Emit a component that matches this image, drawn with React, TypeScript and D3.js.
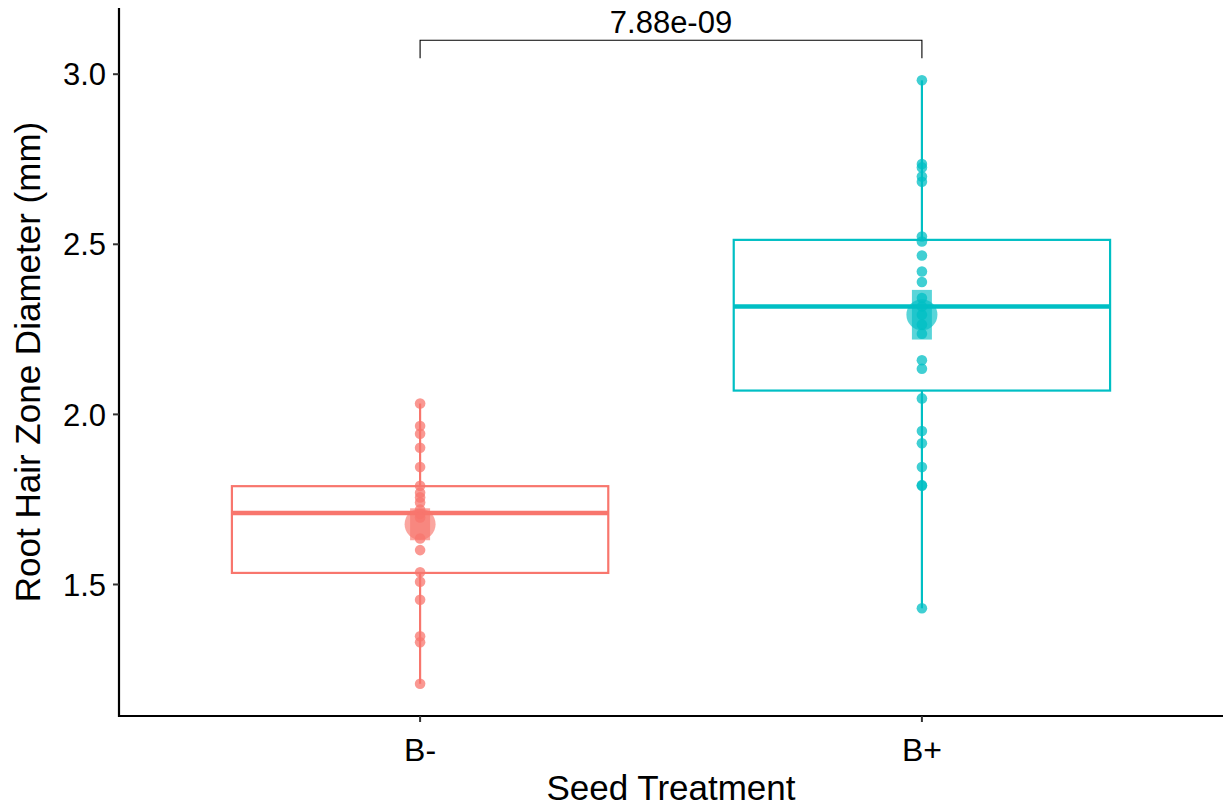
import React from "react";
import * as d3 from "d3";

// Treatment groups and their colours
const groups = ["B-", "B+"];
const groupColors = ["#F8766D", "#00BFC4"];

// Root hair zone diameter measurements (mm) for each seed treatment
const valuesBMinus = [
  2.032, 1.966, 1.943, 1.902, 1.845, 1.790, 1.770, 1.756, 1.741, 1.720,
  1.707, 1.697, 1.635, 1.601, 1.536, 1.508, 1.455, 1.348, 1.330, 1.208,
];
const valuesBPlus = [
  2.982, 2.736, 2.726, 2.699, 2.684, 2.523, 2.508, 2.467, 2.420, 2.389,
  2.342, 2.317, 2.293, 2.264, 2.237, 2.159, 2.134, 2.047, 1.951, 1.915,
  1.845, 1.792, 1.790, 1.430,
];

// Box summaries (lower hinge, median, upper hinge)
const boxQ1 = [1.534, 2.07];
const boxMedian = [1.71, 2.317];
const boxQ3 = [1.789, 2.513];

// Group mean and its standard error
const groupMeans = [1.677, 2.293];
const groupSE = [0.047, 0.073];

// Comparison bracket between the two groups
const pValueLabel = "7.88e-09";
const bracketY = 3.1;
const bracketTip = 0.053;

const yTicks = [1.5, 2.0, 2.5, 3.0];

const W = 1223;
const H = 807;
const panel = { left: 119, right: 1223, top: 8, bottom: 716 };
const FONT = "'Liberation Sans', Arial, Helvetica, sans-serif";

export default function App() {
  const series = [valuesBMinus, valuesBPlus];
  const allVals = series.flat();
  const lo = d3.min(allVals) as number;
  const hi = bracketY;
  const pad = (hi - lo) * 0.05;

  const y = d3
    .scaleLinear()
    .domain([lo - pad, hi + pad])
    .range([panel.bottom, panel.top]);

  const x = d3
    .scalePoint<string>()
    .domain(groups)
    .range([panel.left, panel.right])
    .padding(0.6);

  const step = x.step();
  const boxW = step * 0.75;
  const seW = 20;

  return (
    <svg
      width={W}
      height={H}
      style={{ position: "absolute", left: 0, top: 0, background: "#fff" }}
      fontFamily={FONT}
    >
      <rect x={0} y={0} width={W} height={H} fill="#fff" />

      {groups.map((g, i) => {
        const cx = x(g) as number;
        const col = groupColors[i];
        const vals = series[i];
        const vmin = d3.min(vals) as number;
        const vmax = d3.max(vals) as number;
        return (
          <g key={g}>
            {/* whiskers */}
            <line x1={cx} x2={cx} y1={y(boxQ3[i])} y2={y(vmax)} stroke={col} strokeWidth={2.2} />
            <line x1={cx} x2={cx} y1={y(boxQ1[i])} y2={y(vmin)} stroke={col} strokeWidth={2.2} />
            {/* box */}
            <rect
              x={cx - boxW / 2}
              y={y(boxQ3[i])}
              width={boxW}
              height={y(boxQ1[i]) - y(boxQ3[i])}
              fill="#fff"
              stroke={col}
              strokeWidth={2.2}
            />
            <line
              x1={cx - boxW / 2}
              x2={cx + boxW / 2}
              y1={y(boxMedian[i])}
              y2={y(boxMedian[i])}
              stroke={col}
              strokeWidth={4.4}
            />
            {/* mean ± se */}
            <rect
              x={cx - seW / 2}
              y={y(groupMeans[i] + groupSE[i])}
              width={seW}
              height={y(groupMeans[i] - groupSE[i]) - y(groupMeans[i] + groupSE[i])}
              fill={col}
              fillOpacity={0.65}
            />
            <circle cx={cx} cy={y(groupMeans[i])} r={15.5} fill={col} fillOpacity={0.65} />
            {/* observations */}
            {vals.map((v, j) => (
              <circle key={j} cx={cx} cy={y(v)} r={5.3} fill={col} fillOpacity={0.75} />
            ))}
          </g>
        );
      })}

      {/* significance bracket */}
      <path
        d={`M${x(groups[0])},${y(bracketY - bracketTip)}V${y(bracketY)}H${x(groups[1])}V${y(bracketY - bracketTip)}`}
        fill="none"
        stroke="#000"
        strokeWidth={1.1}
      />
      <text
        x={((x(groups[0]) as number) + (x(groups[1]) as number)) / 2}
        y={y(bracketY) - 7}
        textAnchor="middle"
        fontSize={31}
        fill="#000"
      >
        {pValueLabel}
      </text>

      {/* y axis */}
      <line x1={panel.left} x2={panel.left} y1={panel.top} y2={panel.bottom + 1} stroke="#000" strokeWidth={2.2} />
      {yTicks.map((t) => (
        <g key={t}>
          <line x1={panel.left - 6} x2={panel.left} y1={y(t)} y2={y(t)} stroke="#333" strokeWidth={2} />
          <text x={panel.left - 13} y={y(t)} dy="0.36em" textAnchor="end" fontSize={31} fill="#000">
            {t.toFixed(1)}
          </text>
        </g>
      ))}

      {/* x axis */}
      <line x1={panel.left - 1} x2={panel.right} y1={panel.bottom} y2={panel.bottom} stroke="#000" strokeWidth={2.2} />
      {groups.map((g) => (
        <g key={g}>
          <line x1={x(g)} x2={x(g)} y1={panel.bottom} y2={panel.bottom + 6} stroke="#333" strokeWidth={2} />
          <text x={x(g)} y={panel.bottom + 45} textAnchor="middle" fontSize={32} fill="#000">
            {g}
          </text>
        </g>
      ))}

      {/* axis titles */}
      <text
        x={(panel.left + panel.right) / 2}
        y={800}
        textAnchor="middle"
        fontSize={35}
        fill="#000"
      >
        Seed Treatment
      </text>
      <text
        transform={`translate(${40},${(panel.top + panel.bottom) / 2}) rotate(-90)`}
        textAnchor="middle"
        fontSize={35}
        fill="#000"
      >
        Root Hair Zone Diameter (mm)
      </text>
    </svg>
  );
}
